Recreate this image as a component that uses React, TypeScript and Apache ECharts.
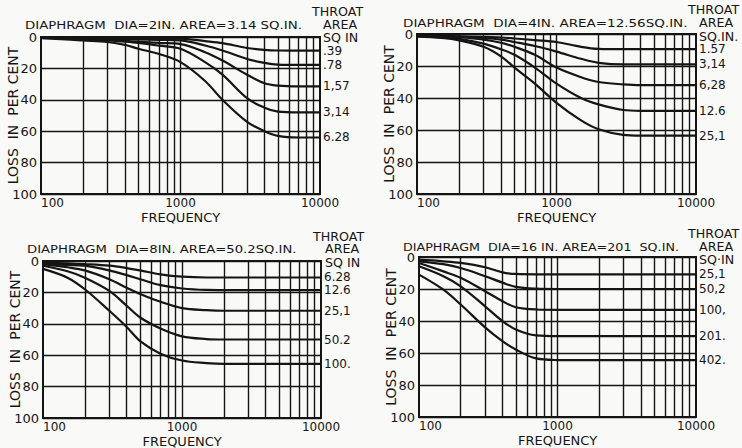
import React, { useEffect, useRef } from "react";
import * as echarts from "echarts";

// ---------- DATA ----------
const freqs = [100, 150, 200, 300, 400, 500, 700, 1000, 1500, 2000, 3000, 4000, 5000, 7000, 10000];
const gridFreqs = [200, 300, 400, 500, 600, 700, 800, 900, 1000, 2000, 3000, 4000, 5000, 6000, 7000, 8000, 9000];

// Panel 1: diaphragm 2 in.
const p1Labels = [".39", ".78", "1,57", "3,14", "6.28"];
const p1A = [0, 0.1, 0.2, 0.4, 0.5, 0.6, 0.8, 1, 2.6, 3.9, 7, 8.2, 8.6, 8.7, 8.7];
const p1B = [0.3, 0.5, 0.7, 1, 1.3, 1.5, 1.8, 2.2, 5.4, 8.6, 14, 16.5, 17.6, 17.8, 17.8];
const p1C = [0.4, 0.7, 1, 1.8, 2.4, 3, 3.8, 4.5, 9.7, 15, 24, 29.5, 31, 31.5, 31.5];
const p1D = [0.5, 0.8, 1.2, 2.2, 3, 3.8, 5.5, 7.5, 16, 24, 39, 45, 47.5, 48, 48];
const p1E = [0.8, 1.5, 2.2, 3.2, 5, 7.5, 10.8, 16, 28, 40, 54, 60, 63, 64, 64];

// Panel 2: diaphragm 4 in.
const p2Labels = ["1.57", "3,14", "6,28", "12.6", "25,1"];
const p2A = [1, 1.2, 1.4, 1.8, 2.2, 2.8, 3.8, 5, 8, 9.3, 9.5, 9.5, 9.5, 9.5, 9.5];
const p2B = [1, 1.3, 1.7, 2.5, 3.5, 5, 7.5, 11, 15.5, 18, 19, 19, 19, 19, 19];
const p2C = [1, 1.5, 2, 3.5, 5.5, 8, 13, 21, 27, 30, 31.5, 32, 32, 32, 32];
const p2D = [1.5, 2, 3, 6, 9.5, 13, 21, 31, 40, 44, 47.5, 48, 48, 48, 48];
const p2E = [1.5, 2.5, 4, 8, 14, 21, 31, 43, 54, 59.5, 63, 63.5, 63.5, 63.5, 63.5];

// Panel 3: diaphragm 8 in.
const p3Labels = ["6.28", "12.6", "25,1", "50.2", "100."];
const p3A = [1, 1.5, 2, 3, 4.5, 6, 8.5, 10, 10.5, 10.5, 10.5, 10.5, 10.5, 10.5, 10.5];
const p3B = [2, 2.5, 3, 6, 9, 11.6, 15.4, 17.5, 18.4, 18.5, 18.5, 18.5, 18.5, 18.5, 18.5];
const p3C = [2, 4, 6, 11.6, 17, 21, 26, 30, 31.3, 31.7, 31.7, 31.7, 31.7, 31.7, 31.7];
const p3D = [3, 6.5, 10.6, 19, 28.5, 36, 43, 48, 49.7, 50, 50, 50, 50, 50, 50];
const p3E = [5, 10.6, 18, 31.7, 42, 51, 59, 63.4, 65, 65.5, 65.5, 65.5, 65.5, 65.5, 65.5];

// Panel 4: diaphragm 16 in.
const p4Labels = ["25,1", "50,2", "100,", "201.", "402."];
const p4A = [1.7, 2.7, 3.7, 6.4, 9.6, 10.6, 10.8, 10.8, 10.8, 10.8, 10.8, 10.8, 10.8, 10.8, 10.8];
const p4B = [2.7, 4.5, 6.9, 12, 16, 18.7, 19.8, 20, 20, 20, 20, 20, 20, 20, 20];
const p4C = [3.7, 9, 13, 21.4, 27.6, 31.4, 32.8, 33, 33, 33, 33, 33, 33, 33, 33];
const p4D = [5.8, 12, 18.3, 30.8, 40, 45.3, 49, 49.5, 49.5, 49.5, 49.5, 49.5, 49.5, 49.5, 49.5];
const p4E = [11, 20.4, 29.7, 44, 52.6, 57.8, 63.4, 64.4, 64.5, 64.5, 64.5, 64.5, 64.5, 64.5, 64.5];

const panelTitles = [
  "DIAPHRAGM  DIA=2IN. AREA=3.14 SQ.IN.",
  "DIAPHRAGM  DIA=4IN. AREA=12.56SQ.IN.",
  "DIAPHRAGM  DIA=8IN. AREA=50.2SQ.IN.",
  "DIAPHRAGM  DIA=16 IN. AREA=201  SQ.IN.",
];
const headTop = "THROAT";
const headMid = "AREA";
const headUnits = ["SQ IN", "SQ.IN.", "SQ IN", "SQ\u00b7IN"];
const xName = "FREQUENCY";
const yName = "LOSS  IN  PER CENT";

const panelSeries = [
  { labels: p1Labels, curves: [p1A, p1B, p1C, p1D, p1E] },
  { labels: p2Labels, curves: [p2A, p2B, p2C, p2D, p2E] },
  { labels: p3Labels, curves: [p3A, p3B, p3C, p3D, p3E] },
  { labels: p4Labels, curves: [p4A, p4B, p4C, p4D, p4E] },
];

// ---------- LAYOUT ----------
const grids = [
  { left: 41, top: 37, width: 279, height: 157 },
  { left: 417, top: 34, width: 279, height: 160 },
  { left: 43, top: 261, width: 278, height: 157 },
  { left: 419, top: 257, width: 277, height: 160 },
];
const titlePos = [
  { x: 25, y: 25, w: 277 },
  { x: 403, y: 23, w: 285 },
  { x: 27, y: 249, w: 270 },
  { x: 403, y: 247, w: 276 },
];
const headPos = [
  { x1: 312, y1: 12, x2: 323, y2: 25, y3: 38 },
  { x1: 688, y1: 10, x2: 699, y2: 23, y3: 37 },
  { x1: 313, y1: 237, x2: 325, y2: 249, y3: 263 },
  { x1: 688, y1: 234, x2: 699, y2: 247, y3: 260 },
];

const INK = "#151515";
const FONT = "DejaVu Sans";

export default function App() {
  const ref = useRef<HTMLDivElement>(null);
  useEffect(() => {
    if (!ref.current) return;
    const chart = echarts.init(ref.current, undefined, { renderer: "svg" });
    const series: any[] = [];
    panelSeries.forEach((p, i) => {
      p.curves.forEach((vals, k) => {
        const s: any = {
          type: "line",
          xAxisIndex: i,
          yAxisIndex: i,
          data: freqs.map((f, j) => [f, vals[j]]),
          smooth: 0.35,
          symbol: "none",
          lineStyle: { color: INK, width: 2.2 },
          endLabel: {
            show: true,
            formatter: p.labels[k],
            distance: 3,
            color: INK,
            fontFamily: FONT,
            fontSize: 12,
          },
          z: 3,
        };
        if (k === 0) {
          s.markLine = {
            silent: true,
            symbol: ["none", "none"],
            label: { show: false },
            lineStyle: { color: INK, width: 1.4, type: "solid" },
            data: gridFreqs.map((f) => ({ xAxis: f })),
            z: 1,
          };
        }
        series.push(s);
      });
    });

    const measure = (t: string) => {
      const c = document.createElement("canvas").getContext("2d");
      if (!c) return t.length * 6.5;
      c.font = `11px "${FONT}"`;
      return c.measureText(t).width;
    };

    const graphic: any[] = [];
    panelTitles.forEach((t, i) => {
      const sx = titlePos[i].w / measure(t);
      graphic.push({
        type: "text",
        x: titlePos[i].x,
        y: titlePos[i].y,
        scaleX: sx,
        style: { text: t, fill: INK, font: `11px "${FONT}"`, textVerticalAlign: "middle" },
      });
      const h = headPos[i];
      graphic.push({
        type: "text",
        x: h.x1,
        y: h.y1,
        scaleX: 1.1,
        style: { text: headTop, fill: INK, font: `11.5px "${FONT}"`, textVerticalAlign: "middle" },
      });
      graphic.push({
        type: "text",
        x: h.x2,
        y: h.y2,
        scaleX: 1.1,
        style: { text: headMid, fill: INK, font: `11.5px "${FONT}"`, textVerticalAlign: "middle" },
      });
      graphic.push({
        type: "text",
        x: h.x2,
        y: h.y3,
        scaleX: 1.1,
        style: { text: headUnits[i], fill: INK, font: `11.5px "${FONT}"`, textVerticalAlign: "middle" },
      });
    });

    const option: any = {
      animation: false,
      backgroundColor: "#f9f9f7",
      grid: grids.map((g) => ({
        ...g,
        show: true,
        borderColor: INK,
        borderWidth: 2,
        backgroundColor: "transparent",
        containLabel: false,
        outerBoundsMode: "none",
      })),
      xAxis: grids.map((_, i) => ({
        type: "log",
        logBase: 10,
        min: 100,
        max: 10000,
        gridIndex: i,
        axisLine: { show: false },
        axisTick: { show: false },
        splitLine: { show: false },
        axisLabel: {
          color: INK,
          fontFamily: FONT,
          fontSize: 12,
          margin: 3,
          alignMinLabel: "left",
          formatter: (v: number) => String(Math.round(v)),
        },
        name: xName,
        nameLocation: "middle",
        nameGap: 17,
        nameMoveOverlap: false,
        nameTextStyle: { color: INK, fontFamily: FONT, fontSize: 13 },
      })),
      yAxis: grids.map((_, i) => ({
        type: "value",
        inverse: true,
        min: 0,
        max: 100,
        interval: 20,
        gridIndex: i,
        axisLine: { show: false },
        axisTick: { show: false },
        splitLine: { show: true, lineStyle: { color: INK, width: 1.4 } },
        axisLabel: { color: INK, fontFamily: FONT, fontSize: 13, margin: 4 },
        name: yName,
        nameLocation: "middle",
        nameGap: 21,
        nameMoveOverlap: false,
        nameRotate: 90,
        nameTextStyle: { color: INK, fontFamily: FONT, fontSize: 14 },
      })),
      graphic,
      series,
    };
    chart.setOption(option);
    return () => chart.dispose();
  }, []);
  return (
    <div
      ref={ref}
      style={{ position: "absolute", left: 0, top: 0, width: 742, height: 448 }}
    />
  );
}
